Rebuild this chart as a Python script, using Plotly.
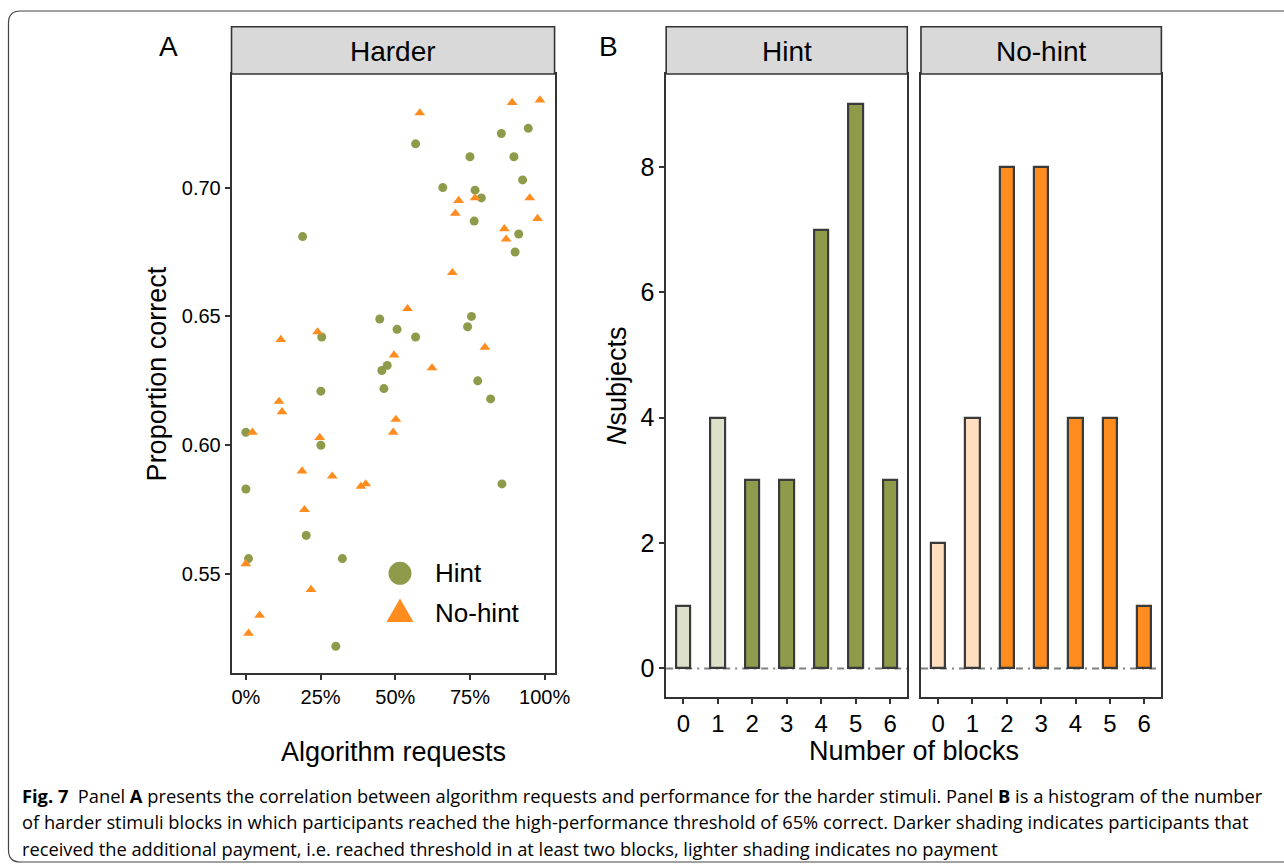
import plotly.graph_objects as go

# ---------------- data ----------------
hint_x = [0.0, 0.0, 0.009, 0.190, 0.202, 0.254, 0.251, 0.251, 0.323, 0.301, 0.448, 0.506,
          0.568, 0.455, 0.473, 0.462, 0.568, 0.659, 0.750, 0.897, 0.855, 0.945, 0.926, 0.767,
          0.788, 0.764, 0.913, 0.901, 0.755, 0.742, 0.776, 0.819, 0.857]
hint_y = [0.605, 0.583, 0.556, 0.681, 0.565, 0.642, 0.621, 0.600, 0.556, 0.522, 0.649, 0.645,
          0.642, 0.629, 0.631, 0.622, 0.717, 0.700, 0.712, 0.712, 0.721, 0.723, 0.703, 0.699,
          0.696, 0.687, 0.682, 0.675, 0.650, 0.646, 0.625, 0.618, 0.585]
nohint_x = [0.582, 0.891, 0.984, 0.767, 0.712, 0.701, 0.950, 0.976, 0.865, 0.871, 0.691, 0.541,
            0.117, 0.240, 0.800, 0.496, 0.623, 0.111, 0.121, 0.022, 0.247, 0.502, 0.493, 0.188,
            0.289, 0.401, 0.385, 0.196, 0.0, 0.218, 0.046, 0.009]
nohint_y = [0.729, 0.733, 0.734, 0.696, 0.695, 0.690, 0.696, 0.688, 0.684, 0.680, 0.667, 0.653,
            0.641, 0.644, 0.638, 0.635, 0.630, 0.617, 0.613, 0.605, 0.603, 0.610, 0.605, 0.590,
            0.588, 0.585, 0.584, 0.575, 0.554, 0.544, 0.534, 0.527]

blocks = [0, 1, 2, 3, 4, 5, 6]
hint_counts = [1, 4, 3, 3, 7, 9, 3]
nohint_counts = [2, 4, 8, 8, 4, 4, 1]

pct_ticks = [0, 0.25, 0.5, 0.75, 1.0]
pct_labels = ["0%", "25%", "50%", "75%", "100%"]
prop_ticks = [0.55, 0.60, 0.65, 0.70]
prop_labels = ["0.55", "0.60", "0.65", "0.70"]
count_ticks = [0, 2, 4, 6, 8]

# ---------------- style ----------------
W, H = 1284, 866
W_EFF = 1269  # width the page actually lays the figure out at (viewport minus scrollbar)
GREEN = "#8F9B4B"
GREEN_L = "#DEE1C9"
ORANGE = "#FF8C1F"
ORANGE_L = "#FFDEBF"
DARK = "#333333"
FONT = "Liberation Sans, Arial, sans-serif"


def px(x):
    return x / W_EFF


def py(y):
    return 1 - y / H


# panel pixel boxes: (left, right, top, bottom)
A_box = (231.7, 555.0, 74.0, 673.0)
B1_box = (666.7, 908.0, 74.0, 696.7)
B2_box = (921.7, 1162.3, 74.0, 696.7)
STRIP_TOP = 26.7

fig = go.Figure()

# Panel A scatter
fig.add_trace(go.Scatter(x=hint_x, y=hint_y, mode="markers", xaxis="x", yaxis="y",
                         marker=dict(symbol="circle", size=9, color=GREEN), showlegend=False))
fig.add_trace(go.Scatter(x=nohint_x, y=nohint_y, mode="markers", xaxis="x", yaxis="y",
                         marker=dict(symbol="triangle-up", size=9.5, color=ORANGE), showlegend=False))

# Panel B bars (light shading = fewer than two blocks, i.e. no payment)
hint_colors = [GREEN if b >= 2 else GREEN_L for b in blocks]
nohint_colors = [ORANGE if b >= 2 else ORANGE_L for b in blocks]
fig.add_trace(go.Bar(x=blocks, y=hint_counts, width=0.42, xaxis="x2", yaxis="y2",
                     marker=dict(color=hint_colors, line=dict(color="#3a3a3a", width=2.2)),
                     showlegend=False))
fig.add_trace(go.Bar(x=blocks, y=nohint_counts, width=0.42, xaxis="x3", yaxis="y3",
                     marker=dict(color=nohint_colors, line=dict(color="#3a3a3a", width=2.2)),
                     showlegend=False))

axis_common = dict(showgrid=False, zeroline=False, showline=True, mirror=True,
                   linecolor=DARK, linewidth=1.6, ticklen=5,
                   tickwidth=1.6, tickcolor=DARK, fixedrange=True)

fig.update_layout(
    width=W, height=H, autosize=False,
    margin=dict(l=0, r=0, t=0, b=0),
    paper_bgcolor="white", plot_bgcolor="white",
    font=dict(family=FONT, color="black"),
    bargap=0,
    xaxis=dict(domain=[px(A_box[0]), px(A_box[1])], range=[-0.048, 1.033],
               tickvals=pct_ticks, ticktext=pct_labels, tickfont=dict(size=20),
               ticks="outside", anchor="y", **axis_common),
    yaxis=dict(domain=[py(A_box[3]), py(A_box[2])], range=[0.5116, 0.7441],
               tickvals=prop_ticks, ticktext=prop_labels, tickfont=dict(size=20),
               ticks="outside", anchor="x", **axis_common),
    xaxis2=dict(domain=[px(B1_box[0]), px(B1_box[1])], range=[-0.5, 6.5],
                tickvals=blocks, tickfont=dict(size=24), ticks="outside",
                anchor="y2", **axis_common),
    yaxis2=dict(domain=[py(B1_box[3]), py(B1_box[2])], range=[-0.45, 9.48],
                tickvals=count_ticks, tickfont=dict(size=25), ticks="outside",
                anchor="x2", **axis_common),
    xaxis3=dict(domain=[px(B2_box[0]), px(B2_box[1])], range=[-0.5, 6.5],
                tickvals=blocks, tickfont=dict(size=24), ticks="outside",
                anchor="y3", **axis_common),
    yaxis3=dict(domain=[py(B2_box[3]), py(B2_box[2])], range=[-0.45, 9.48],
                tickvals=count_ticks, showticklabels=False, ticks="",
                anchor="x3", **axis_common),
)

shapes = []
# dot-dash reference line at zero
for xr, yr in (("x2 domain", "y2"), ("x3 domain", "y3")):
    shapes.append(dict(type="line", xref=xr, yref=yr, x0=0, x1=1, y0=0, y1=0, layer="below",
                       line=dict(color="#808080", width=1.8, dash="7px,5px,2px,5px")))
# strips
for box in (A_box, B1_box, B2_box):
    shapes.append(dict(type="rect", xref="paper", yref="paper",
                       x0=px(box[0]), x1=px(box[1]), y0=py(box[2]), y1=py(STRIP_TOP),
                       fillcolor="#D9D9D9", line=dict(color=DARK, width=1.6)))
# legend glyphs (panel A)
cx, cy, r = 400.3, 573.3, 11.5
shapes.append(dict(type="circle", xref="paper", yref="paper",
                   x0=px(cx - r), x1=px(cx + r), y0=py(cy + r), y1=py(cy - r),
                   fillcolor=GREEN, line=dict(width=0)))
tx, ty_top, ty_bot, hw = 400.3, 598.5, 622.0, 13.5
shapes.append(dict(type="path", xref="paper", yref="paper",
                   path=f"M {px(tx - hw)},{py(ty_bot)} L {px(tx + hw)},{py(ty_bot)} "
                        f"L {px(tx)},{py(ty_top)} Z",
                   fillcolor=ORANGE, line=dict(width=0)))
# outer rounded frame (right side runs off the page)
L, T, R, B, rad = 8.5, 11.0, 1330.0, 862.0, 12.0
frame = (f"M {px(L)},{py(T + rad)} Q {px(L)},{py(T)} {px(L + rad)},{py(T)} "
         f"L {px(R)},{py(T)} L {px(R)},{py(B)} L {px(L + rad)},{py(B)} "
         f"Q {px(L)},{py(B)} {px(L)},{py(B - rad)} Z")
shapes.append(dict(type="path", xref="paper", yref="paper", path=frame,
                   line=dict(color="#444444", width=1.2), fillcolor="rgba(0,0,0,0)"))
fig.update_layout(shapes=shapes)

ann = []


def text(x, y, s, size, xanchor="center", yanchor="middle", angle=0, family=FONT):
    ann.append(dict(x=px(x), y=py(y), xref="paper", yref="paper", text=s, showarrow=False,
                    xanchor=xanchor, yanchor=yanchor, textangle=angle,
                    font=dict(size=size, family=family, color="black")))


text((A_box[0] + A_box[1]) / 2, 51, "Harder", 28)
text((B1_box[0] + B1_box[1]) / 2, 51, "Hint", 28)
text((B2_box[0] + B2_box[1]) / 2, 51, "No-hint", 28)
text(169, 47, "A", 28)
text(609, 47, "B", 28)
text(157, 373.5, "Proportion correct", 27, angle=-90)
text(617, 385.5, "<i>N</i>subjects", 27, angle=-90)
text((A_box[0] + A_box[1]) / 2, 752, "Algorithm requests", 27)
text((B1_box[0] + B2_box[1]) / 2, 751, "Number of blocks", 27)
text(433, 573.3, "Hint", 26, xanchor="left")
text(433, 612.5, "No-hint", 26, xanchor="left")

CAP = "Open Sans, Noto Sans, sans-serif"
cap_lines = [
    "<b>Fig. 7</b>  Panel <b>A</b> presents the correlation between algorithm requests and "
    "performance for the harder stimuli. Panel <b>B</b> is a histogram of the number",
    "of harder stimuli blocks in which participants reached the high-performance threshold "
    "of 65% correct. Darker shading indicates participants that",
    "received the additional payment, i.e. reached threshold in at least two blocks, "
    "lighter shading indicates no payment",
]
for i, s in enumerate(cap_lines):
    text(20, 795 + i * 26.5, s, 18.3, xanchor="left", family=CAP)

fig.update_layout(annotations=ann)

fig.write_html("out.html", config={"responsive": False})
